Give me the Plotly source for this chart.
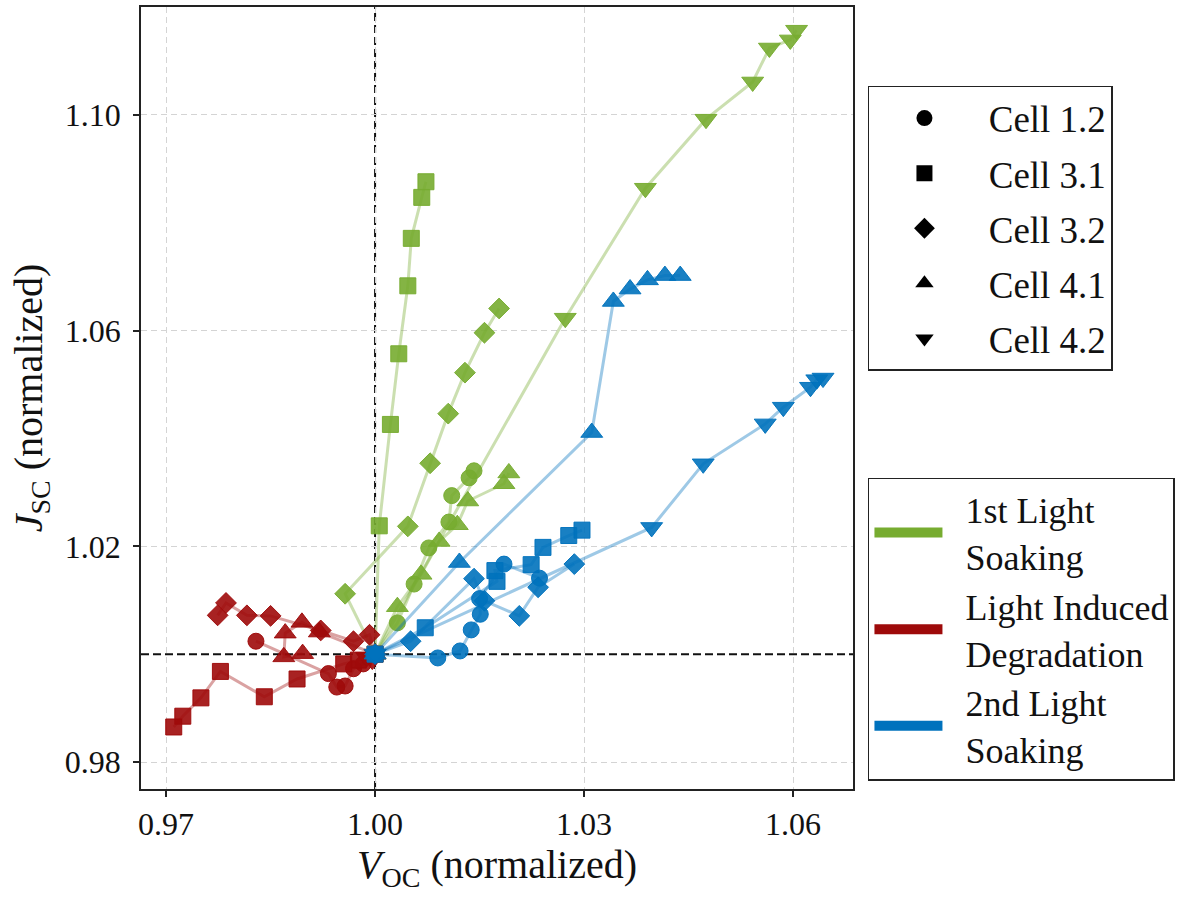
import plotly.graph_objects as go

# ---------------- data (normalized Voc, Jsc) ----------------
cells = ["Cell 1.2", "Cell 3.1", "Cell 3.2", "Cell 4.1", "Cell 4.2"]
symbols = ["circle", "square", "diamond", "triangle-up", "triangle-down"]
phases = ["1st Light<br>Soaking", "Light Induced<br>Degradation", "2nd Light<br>Soaking"]

# 1st light soaking (green)
ls1_c12_voc = [1.0, 1.0032, 1.0056, 1.0077, 1.0106, 1.0110, 1.0135, 1.0142]
ls1_c12_jsc = [1.0, 1.0058, 1.0130, 1.0197, 1.0245, 1.0294, 1.0327, 1.0340]
ls1_c31_voc = [1.0, 1.0006, 1.0022, 1.0034, 1.0047, 1.0052, 1.0067, 1.0073]
ls1_c31_jsc = [1.0, 1.0238, 1.0426, 1.0557, 1.0683, 1.0771, 1.0847, 1.0876]
ls1_c32_voc = [1.0, 0.9957, 1.0047, 1.0079, 1.0105, 1.0129, 1.0157, 1.0178]
ls1_c32_jsc = [1.0, 1.0112, 1.0237, 1.0354, 1.0446, 1.0522, 1.0596, 1.0641]
ls1_c41_voc = [1.0, 1.0032, 1.0066, 1.0092, 1.0118, 1.0133, 1.0185, 1.0192]
ls1_c41_jsc = [1.0, 1.0088, 1.0148, 1.0209, 1.0240, 1.0284, 1.0316, 1.0336]
ls1_c42_voc = [1.0, 1.0273, 1.0388, 1.0475, 1.0542, 1.0566, 1.0596, 1.0605]
ls1_c42_jsc = [1.0, 1.0623, 1.0864, 1.0992, 1.1061, 1.1124, 1.1139, 1.1157]

# light induced degradation (red)
lid_c12_voc = [1.0, 0.9983, 0.9969, 0.9957, 0.9945, 0.9933, 0.9829]
lid_c12_jsc = [1.0, 0.9982, 0.9973, 0.9941, 0.9939, 0.9964, 1.0024]
lid_c31_voc = [1.0, 0.9976, 0.9955, 0.9888, 0.9841, 0.9778, 0.9750, 0.9724, 0.9711]
lid_c31_jsc = [1.0, 0.9989, 0.9982, 0.9954, 0.9921, 0.9968, 0.9919, 0.9885, 0.9865]
lid_c32_voc = [1.0, 0.9992, 0.9969, 0.9922, 0.9850, 0.9816, 0.9786, 0.9774]
lid_c32_jsc = [1.0, 1.0036, 1.0024, 1.0044, 1.0071, 1.0072, 1.0095, 1.0072]
lid_c41_voc = [1.0, 0.9920, 0.9895, 0.9871, 0.9869, 0.9896]
lid_c41_jsc = [1.0, 1.0041, 1.0059, 1.0039, 0.9995, 1.0001]
lid_c42_voc = [1.0, 0.9996, 0.9988]
lid_c42_jsc = [1.0, 0.9989, 0.9994]

# 2nd light soaking (blue)
ls2_c12_voc = [1.0, 1.0090, 1.0122, 1.0138, 1.0151, 1.0150, 1.0185, 1.0236]
ls2_c12_jsc = [1.0, 0.9993, 1.0006, 1.0045, 1.0074, 1.0103, 1.0167, 1.0141]
ls2_c31_voc = [1.0, 1.0072, 1.0175, 1.0172, 1.0224, 1.0241, 1.0278, 1.0297]
ls2_c31_jsc = [1.0, 1.0049, 1.0135, 1.0155, 1.0166, 1.0198, 1.0220, 1.0230]
ls2_c32_voc = [1.0, 1.0051, 1.0142, 1.0157, 1.0207, 1.0234, 1.0286]
ls2_c32_jsc = [1.0, 1.0024, 1.0140, 1.0099, 1.0071, 1.0124, 1.0167]
ls2_c41_voc = [1.0, 1.0121, 1.0311, 1.0342, 1.0366, 1.0391, 1.0416, 1.0438]
ls2_c41_jsc = [1.0, 1.0170, 1.0411, 1.0654, 1.0677, 1.0694, 1.0702, 1.0702]
ls2_c42_voc = [1.0, 1.0397, 1.0471, 1.0560, 1.0586, 1.0625, 1.0634, 1.0643]
ls2_c42_jsc = [1.0, 1.0235, 1.0353, 1.0427, 1.0458, 1.0495, 1.0509, 1.0512]

x_ticks = [0.97, 1.00, 1.03, 1.06]
y_ticks = [0.98, 1.02, 1.06, 1.10]
x_range = [0.9664, 1.0686]
y_range = [0.9750, 1.1200]

# ---------------- styling ----------------
FONT = "Liberation Serif"
phase_rgb = [(119, 172, 48), (158, 10, 10), (0, 114, 189)]
marker_sizes = {"circle": 16, "square": 16, "diamond": 16,
                "triangle-up": 19, "triangle-down": 19}

phase_data = [
    [(ls1_c12_voc, ls1_c12_jsc), (ls1_c31_voc, ls1_c31_jsc), (ls1_c32_voc, ls1_c32_jsc),
     (ls1_c41_voc, ls1_c41_jsc), (ls1_c42_voc, ls1_c42_jsc)],
    [(lid_c12_voc, lid_c12_jsc), (lid_c31_voc, lid_c31_jsc), (lid_c32_voc, lid_c32_jsc),
     (lid_c41_voc, lid_c41_jsc), (lid_c42_voc, lid_c42_jsc)],
    [(ls2_c12_voc, ls2_c12_jsc), (ls2_c31_voc, ls2_c31_jsc), (ls2_c32_voc, ls2_c32_jsc),
     (ls2_c41_voc, ls2_c41_jsc), (ls2_c42_voc, ls2_c42_jsc)],
]

fig = go.Figure()

for p, series in enumerate(phase_data):
    r, g, b = phase_rgb[p]
    for c, (xs, ys) in enumerate(series):
        fig.add_trace(go.Scatter(
            x=xs, y=ys, mode="lines+markers",
            line=dict(color=f"rgba({r},{g},{b},0.38)", width=3),
            marker=dict(symbol=symbols[c], size=marker_sizes[symbols[c]],
                        color=f"rgba({r},{g},{b},0.9)",
                        line=dict(color=f"rgba({r},{g},{b},0.95)", width=1)),
            showlegend=False, hoverinfo="x+y",
        ))

# legend 1 : cell markers (black)
for c, name in enumerate(cells):
    fig.add_trace(go.Scatter(
        x=[None], y=[None], mode="markers", name="\u00a0" + name,
        marker=dict(symbol=symbols[c], size=16, color="black"),
        legend="legend", legendgroup=name,
    ))

# legend 2 : phase colours
for p, name in enumerate(phases):
    r, g, b = phase_rgb[p]
    label = "<br>".join("\u00a0\u00a0" + part for part in name.split("<br>"))
    fig.add_trace(go.Scatter(
        x=[None], y=[None], mode="lines", name=label,
        line=dict(color=f"rgb({r},{g},{b})", width=10),
        legend="legend2",
    ))

# reference lines at (1, 1)
fig.add_shape(type="line", xref="x", yref="paper", x0=1.0, x1=1.0, y0=0, y1=1,
              line=dict(color="#111111", width=2, dash="8px,4px"), layer="between")
fig.add_shape(type="line", xref="paper", yref="y", x0=0, x1=1, y0=1.0, y1=1.0,
              line=dict(color="#111111", width=2, dash="8px,4px"), layer="between")

axis_common = dict(
    showline=True, linecolor="#222222", linewidth=1.5, mirror=True,
    ticks="outside", ticklen=6, tickwidth=1.5, tickcolor="#222222",
    showgrid=True, gridcolor="#d4d4d4", gridwidth=1, griddash="6px,4px",
    zeroline=False, tickfont=dict(family=FONT, size=32, color="#111111"),
)

fig.update_layout(
    width=1200, height=899,
    margin=dict(l=141, r=347, t=5, b=110),
    paper_bgcolor="white", plot_bgcolor="white",
    font=dict(family=FONT, color="#111111"),
    xaxis=dict(range=x_range, tickvals=x_ticks, tickformat=".2f",
               title=dict(text="<i>V</i><sub>OC</sub> (normalized)",
                          font=dict(family=FONT, size=40), standoff=8),
               **axis_common),
    yaxis=dict(range=y_range, tickvals=y_ticks, tickformat=".2f",
               ticklabelstandoff=6,
               title=dict(text="<i>J</i><sub>SC</sub> (normalized)",
                          font=dict(family=FONT, size=40), standoff=10),
               **axis_common),
    legend=dict(x=1.021, y=0.899, xanchor="left", yanchor="top",
                bordercolor="#222222", borderwidth=1.5, bgcolor="white",
                font=dict(family=FONT, size=37), itemwidth=100,
                tracegroupgap=4),
    legend2=dict(x=1.021, y=0.398, xanchor="left", yanchor="top",
                 bordercolor="#222222", borderwidth=1.5, bgcolor="white",
                 font=dict(family=FONT, size=36), itemwidth=68),
)

fig.write_html("out.html")
